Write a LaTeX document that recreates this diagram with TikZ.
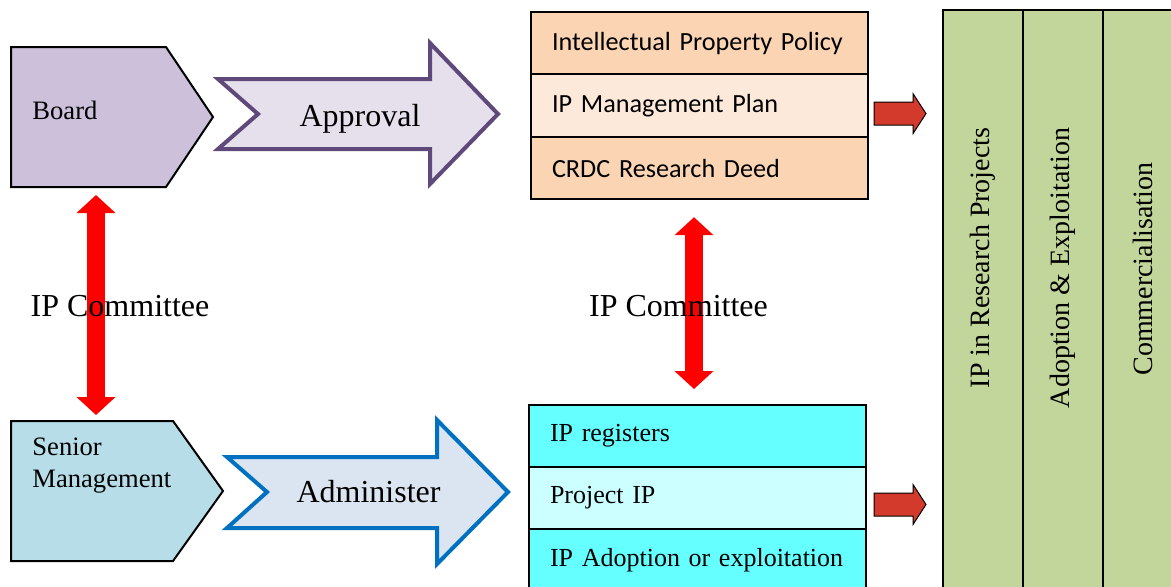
\documentclass[tikz,border=0pt]{standalone}
\usepackage{fontspec}
\setmainfont{Liberation Serif}
\newfontfamily\calibrifont{Carlito}
\usetikzlibrary{arrows.meta,positioning,calc}
\definecolor{boardfill}{HTML}{CCC0DA}
\definecolor{approvalfill}{HTML}{E5E0EC}
\definecolor{approvaledge}{HTML}{5F497A}
\definecolor{seniorfill}{HTML}{B7DEE8}
\definecolor{adminfill}{HTML}{DBE5F1}
\definecolor{adminedge}{HTML}{0070C0}
\definecolor{peach}{HTML}{FBD4B4}
\definecolor{lightpeach}{HTML}{FDE9D9}
\definecolor{cyanrow}{HTML}{66FFFF}
\definecolor{lightcyan}{HTML}{CCFFFF}
\definecolor{olivegreen}{HTML}{C2D69B}
\definecolor{blockred}{HTML}{D33A2C}
\tikzset{
  body/.style={anchor=north west, inner sep=0pt, outer sep=0pt},
  outline/.style={draw=black, line width=1pt},
  lbl/.style={inner sep=0pt, font=\fontsize{13.3}{16}\selectfont},
  bigtext/.style={inner sep=0pt, font=\fontsize{16}{19}\selectfont},
  rowbox/.style={draw, line width=1pt, text width=147.5pt, inner xsep=10.5pt, inner ysep=0pt, outer sep=0pt, align=left},
  toprow/.style={rowbox, minimum height=31.2pt, font=\calibrifont\fontsize{13.1}{16}\selectfont},
  lowrow/.style={rowbox, minimum height=31pt, font=\fontsize{13}{16}\selectfont},
  colbox/.style={draw, line width=1pt, fill=olivegreen, minimum width=40pt, minimum height=300pt, inner sep=0pt, outer sep=0pt},
  coltext/.style={rotate=90, inner sep=0pt, font=\fontsize{14}{16}\selectfont},
  committee/.style={red, line width=9pt, <->, >={Triangle[length=9pt,width=19pt]}},
  blockarrow/.style={draw=black, line width=0.5pt, fill=blockred}
}
\begin{document}
\begin{tikzpicture}[x=0.5pt,y=-0.5pt,line join=miter]
\useasboundingbox (0,0) rectangle (1171,586);
\clip (0,0) rectangle (1171,586);

\node[body, minimum width=101pt, minimum height=70pt] (board) at (11,47) {};
\draw[outline, fill=boardfill] (board.north west) -- ++(155,0) -- (board.east) -- ($(board.south west)+(155,0)$) -- (board.south west) -- cycle;
\node[lbl, anchor=base west] (boardtext) at (32,119) {Board};

\node[body, minimum width=106pt, minimum height=70pt] (senior) at (11,421) {};
\draw[outline, fill=seniorfill] (senior.north west) -- ++(162,0) -- (senior.east) -- ($(senior.south west)+(162,0)$) -- (senior.south west) -- cycle;
\node[lbl, anchor=north west, align=left] (seniortext) at (32,437) {Senior\\Management};

\draw[approvaledge, line width=2pt, fill=approvalfill] (218,79) -- (430,79) -- (430,43) -- (498,114) -- (430,184) -- (430,149) -- (218,149) -- (258,114) -- cycle;
\node[bigtext] (approval) at (360,118.5) {Approval};
\draw[adminedge, line width=2pt, fill=adminfill] (227,457) -- (437,457) -- (437,420) -- (508,492) -- (437,564) -- (437,528) -- (227,528) -- (267,492) -- cycle;
\node[bigtext] (administer) at (368.5,492) {Administer};

\node[toprow, fill=peach, anchor=north west] (policy) at (531,12) {Intellectual Property Policy};
\node[toprow, fill=lightpeach, below=0pt of policy] (plan) {IP Management Plan};
\node[toprow, fill=peach, below=0pt of plan] (deed) {CRDC Research Deed};

\node[lowrow, fill=cyanrow, anchor=north west] (registers) at (529,405) {IP registers};
\node[lowrow, fill=lightcyan, below=0pt of registers] (project) {Project IP};
\node[lowrow, fill=cyanrow, below=0pt of project] (exploitation) {\mbox{IP Adoption or exploitation}};

\node[colbox, anchor=north west] (projects) at (943,10) {};
\node[colbox, right=0pt of projects] (adoption) {};
\node[colbox, right=0pt of adoption] (commercial) {};
\node[coltext] (projectstext) at (983,258) {IP in Research Projects};
\node[coltext] (adoptiontext) at (1063,268) {Adoption \& Exploitation};
\node[coltext] (commercialtext) at (1143,269) {Commercialisation};

\draw[committee] ($(board.south west)+(85,8)$) -- ($(senior.north west)+(85,-6)$);
\draw[committee] ($(deed.south)+(-5.5,18)$) -- ($(registers.north)+(-3.5,-16)$);
\node[bigtext] (leftcommittee) at (120,306) {IP Committee};
\node[bigtext] (rightcommittee) at (678.5,306) {IP Committee};

\coordinate (planarrow) at ($(plan.east)+(6,8)$);
\coordinate (projectarrow) at ($(project.east)+(8,6.5)$);
\foreach \s in {planarrow,projectarrow}
  \draw[blockarrow] (\s) ++(0,-11.5) -- ++(39,0) -- ++(0,-8.5) -- ++(13,20) -- ++(-13,20) -- ++(0,-8.5) -- ++(-39,0) -- cycle;
\end{tikzpicture}
\end{document}
